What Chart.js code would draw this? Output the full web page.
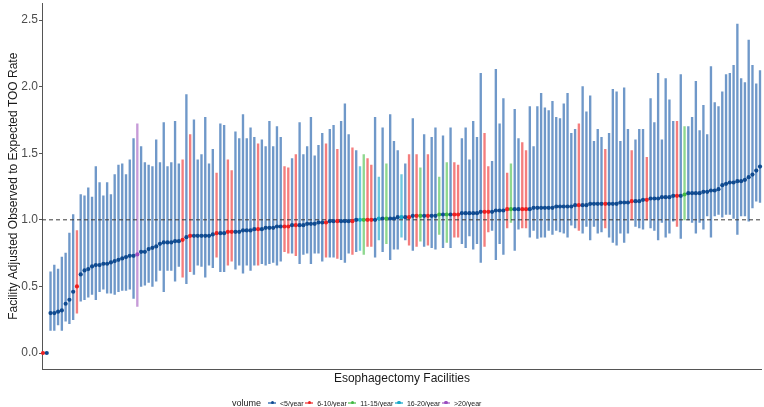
<!DOCTYPE html>
<html>
<head>
<meta charset="utf-8">
<script src="https://cdn.jsdelivr.net/npm/chart.js@4.4.0/dist/chart.umd.min.js"></script>
<style>
html,body{margin:0;padding:0;background:#fff;}
#wrap{position:relative;width:764px;height:407px;overflow:hidden;}
#c{position:absolute;left:0;top:0;}
#legend{position:absolute;left:232px;top:396px;height:14px;display:flex;align-items:center;font-family:"Liberation Sans",Arial,sans-serif;color:#1a1a1a;white-space:nowrap;}
#legend .ttl{font-size:9px;margin-right:7px;}
#legend .key{position:relative;display:inline-block;width:8px;height:1.5px;margin-right:4px;}
#legend .key i{position:absolute;left:2.5px;top:-1.5px;width:3.5px;height:3.5px;border-radius:50%;}
#legend .txt{font-size:7px;margin-right:1.6px;}
</style>
</head>
<body>
<div id="wrap">
<canvas id="c" width="764" height="407"></canvas>
<div id="legend"></div>
</div>
<script>
// ---- data ----
const volumeLevels = ['<5/year', '6-10/year', '11-15/year', '16-20/year', '>20/year'];

// point estimate of facility adjusted O/E TOO rate, sorted ascending
const ptEst = [
0.00,0.00,0.30,0.30,0.31,0.32,0.37,0.40,0.46,0.50,
0.59,0.62,0.63,0.65,0.66,0.66,0.67,0.67,0.68,0.69,
0.70,0.71,0.72,0.73,0.73,0.74,0.76,0.76,0.78,0.79,
0.80,0.82,0.83,0.83,0.83,0.84,0.84,0.85,0.87,0.88,
0.88,0.88,0.88,0.88,0.88,0.89,0.90,0.90,0.90,0.91,
0.91,0.91,0.91,0.92,0.92,0.92,0.93,0.93,0.93,0.94,
0.94,0.94,0.95,0.95,0.95,0.95,0.96,0.96,0.96,0.96,
0.97,0.97,0.97,0.98,0.98,0.98,0.99,0.99,0.99,0.99,
0.99,0.99,0.99,1.00,1.00,1.00,1.00,1.00,1.00,1.01,
1.01,1.01,1.01,1.01,1.02,1.02,1.02,1.02,1.03,1.03,
1.03,1.03,1.03,1.03,1.03,1.04,1.04,1.04,1.04,1.04,
1.04,1.05,1.05,1.05,1.05,1.05,1.06,1.06,1.06,1.06,
1.07,1.07,1.07,1.08,1.08,1.08,1.08,1.08,1.08,1.08,
1.09,1.09,1.09,1.09,1.09,1.09,1.10,1.10,1.10,1.10,
1.10,1.11,1.11,1.11,1.11,1.12,1.12,1.12,1.12,1.12,
1.12,1.12,1.12,1.13,1.13,1.13,1.14,1.14,1.14,1.15,
1.15,1.16,1.16,1.16,1.17,1.17,1.17,1.18,1.18,1.18,
1.19,1.20,1.20,1.20,1.20,1.21,1.21,1.22,1.22,1.23,
1.26,1.27,1.28,1.28,1.29,1.29,1.30,1.32,1.34,1.37,
1.40
];

// lower and upper interval limits (null = no interval drawn)
const ciLow = [
null,null,0.17,0.17,0.21,0.17,0.24,0.22,0.25,0.30,
0.39,0.40,0.42,0.44,0.40,0.46,0.48,0.45,0.45,0.44,
0.46,0.47,0.47,0.48,0.41,0.35,0.50,0.51,0.53,0.50,
0.54,0.62,0.46,0.62,0.62,0.54,0.65,0.57,0.52,0.61,
0.59,0.66,0.65,0.57,0.66,0.64,0.72,0.61,0.61,0.66,
0.69,0.63,0.66,0.60,0.66,0.62,0.66,0.66,0.67,0.66,
0.67,0.68,0.66,0.69,0.76,0.75,0.75,0.73,0.67,0.74,
0.75,0.67,0.75,0.75,0.69,0.72,0.72,0.72,0.71,0.70,
0.68,0.75,0.74,0.76,0.77,0.74,0.80,0.80,0.72,0.85,
0.76,0.82,0.70,0.78,0.78,0.87,0.85,0.81,0.77,0.80,
0.84,0.80,0.81,0.79,0.78,0.89,0.79,0.83,0.79,0.87,
0.87,0.82,0.79,0.88,0.78,0.82,0.68,0.80,0.91,0.92,
0.70,0.82,0.74,0.94,0.98,0.77,0.93,0.94,0.94,0.87,
0.92,0.86,0.87,0.87,0.92,0.89,0.92,0.91,0.90,0.87,
0.96,0.94,0.92,0.90,0.95,0.85,0.95,0.90,0.91,0.94,
0.87,0.83,0.81,0.90,0.83,0.90,1.00,0.95,0.94,0.93,
1.00,0.94,0.92,0.85,0.98,0.87,0.90,0.99,0.95,0.86,
1.00,1.00,0.98,0.90,0.98,0.93,1.03,0.87,1.03,1.04,
1.02,1.04,1.04,1.01,0.89,1.03,1.03,0.99,1.09,1.14,
1.13
];
const ciHigh = [
null,null,0.61,0.66,0.63,0.72,0.75,0.90,1.04,0.92,
1.19,1.18,1.24,1.17,1.40,1.28,1.18,1.28,1.19,1.34,
1.41,1.42,1.34,1.45,1.61,1.72,1.55,1.43,1.41,1.40,
1.60,1.43,1.73,1.40,1.43,1.74,1.42,1.45,1.94,1.64,
1.75,1.45,1.49,1.77,1.42,1.53,1.35,1.72,1.71,1.45,
1.37,1.66,1.61,1.79,1.61,1.69,1.62,1.57,1.60,1.55,
1.74,1.55,1.70,1.62,1.40,1.39,1.46,1.49,1.73,1.49,
1.55,1.77,1.48,1.56,1.65,1.57,1.68,1.71,1.53,1.74,
1.87,1.64,1.54,1.52,1.40,1.49,1.46,1.41,1.77,1.32,
1.69,1.42,1.79,1.59,1.52,1.34,1.42,1.49,1.76,1.49,
1.39,1.64,1.49,1.62,1.69,1.32,1.63,1.43,1.69,1.43,
1.41,1.61,1.69,1.45,1.74,1.62,2.10,1.65,1.40,1.44,
2.13,1.72,1.91,1.35,1.42,1.83,1.61,1.58,1.52,1.85,
1.55,1.85,1.95,1.84,1.82,1.89,1.77,1.76,1.87,1.95,
1.65,1.68,1.72,2.00,1.81,1.93,1.59,1.68,1.62,1.53,
1.65,1.98,1.96,1.59,1.99,1.68,1.52,1.60,1.68,1.68,
1.47,1.91,1.73,2.10,1.60,2.06,1.90,1.74,1.74,2.09,
1.70,1.70,1.77,2.04,1.67,1.86,1.64,2.15,1.88,1.85,
1.96,2.09,2.10,2.16,2.47,2.06,2.03,2.35,2.16,2.02,
2.12
];

// volume group of each facility (index into volumeLevels)
const volumeGroup = [
1,0,0,0,0,0,0,0,0,1,
0,0,0,0,0,0,0,0,0,0,
0,0,0,0,0,4,0,0,0,0,
0,0,0,0,0,0,0,1,0,1,
0,0,0,0,0,0,1,0,0,1,
1,0,0,0,0,0,0,1,0,0,
0,0,0,0,1,1,0,1,0,0,
0,0,0,0,0,1,0,0,1,0,
0,0,1,0,3,2,1,1,0,3,
0,2,0,0,0,3,0,1,0,1,
2,0,1,0,0,2,0,2,0,1,
1,0,0,0,0,0,0,1,1,0,
0,0,0,1,2,0,0,1,1,0,
0,0,0,0,0,0,0,0,0,0,
0,0,1,0,0,0,0,0,0,1,
0,0,0,0,0,0,1,0,0,0,
1,0,0,0,0,0,0,0,1,0,
2,0,0,0,0,0,0,0,0,0,
0,0,0,0,0,0,0,0,0,0,
0
];

const refLine = 1.0;
const yTicks = [0, 0.5, 1, 1.5, 2, 2.5];
const yTickLabels = ['0.0', '0.5', '1.0', '1.5', '2.0', '2.5'];

// ---- styles ----
const pointColors = ['#0f4a90', '#ee2020', '#42b842', '#18a8c8', '#9a4cc0'];
const lineColors  = ['#6f98c9', '#f47e7e', '#8fd88f', '#6fc8de', '#c69bd8'];
const FONT = '"Liberation Sans", Arial, sans-serif';
const xMin = -0.26, xMax = 190.5;
const yMin = -0.12, yMax = 2.624;

const facilityIndex = ptEst.map((_, i) => i);
const barData = [];
facilityIndex.forEach(i => { if (ciLow[i] !== null) barData.push({x: i, y: [ciLow[i], ciHigh[i]]}); });

new Chart(document.getElementById('c').getContext('2d'), {
  type: 'bar',
  data: {
    datasets: [
      {
        type: 'scatter',
        label: 'estimate',
        data: facilityIndex.map(i => ({x: i, y: ptEst[i]})),
        pointRadius: 2.1,
        pointHoverRadius: 2.1,
        pointBorderWidth: 0,
        pointBackgroundColor: ctx => pointColors[volumeGroup[ctx.dataIndex]],
        order: 0,
        clip: false
      },
      {
        type: 'line',
        label: 'reference',
        data: [{x: xMin, y: refLine}, {x: xMax, y: refLine}],
        borderColor: '#3a3a3a',
        borderWidth: 1,
        borderDash: [4, 3],
        pointRadius: 0,
        order: 1
      },
      {
        type: 'bar',
        label: 'interval',
        data: barData,
        backgroundColor: ctx => lineColors[volumeGroup[ctx.raw ? ctx.raw.x : 0]],
        borderWidth: 0,
        barThickness: 1.7,
        order: 2
      }
    ]
  },
  options: {
    responsive: false,
    animation: false,
    devicePixelRatio: 1,
    layout: {padding: {top: 3.5, bottom: 21.6, left: 0, right: 0}},
    plugins: {legend: {display: false}, tooltip: {enabled: false}},
    scales: {
      x: {
        type: 'linear',
        min: xMin, max: xMax,
        offset: false,
        ticks: {display: false},
        grid: {display: false, drawTicks: false},
        border: {display: true, color: '#555', width: 1},
        title: {display: true, text: 'Esophagectomy Facilities', color: '#1a1a1a',
                font: {family: FONT, size: 12}, padding: {top: 2, bottom: 0}},
        afterFit: s => { s.paddingLeft = 0; s.paddingRight = 0; }
      },
      y: {
        type: 'linear',
        min: yMin, max: yMax,
        afterBuildTicks: s => { s.ticks = yTicks.map(v => ({value: v})); },
        afterFit: s => { s.width = 42; s.paddingTop = 0; s.paddingBottom = 0; },
        ticks: {
          color: '#4d4d4d', font: {family: FONT, size: 12}, padding: 1,
          callback: (v, i) => yTickLabels[i]
        },
        grid: {display: true, drawOnChartArea: false, drawTicks: true, tickLength: 3, color: '#555'},
        border: {display: true, color: '#555', width: 1},
        title: {display: true, text: 'Facility Adjusted Observed to Expected TOO Rate', color: '#1a1a1a',
                font: {family: FONT, size: 12}, padding: {top: 6, bottom: 0}}
      }
    }
  }
});

// ---- legend (HTML) ----
const lg = document.getElementById('legend');
const t = document.createElement('span'); t.className = 'ttl'; t.textContent = 'volume'; lg.appendChild(t);
volumeLevels.forEach((lab, g) => {
  const k = document.createElement('span'); k.className = 'key'; k.style.background = lineColors[g];
  const d = document.createElement('i'); d.style.background = pointColors[g]; k.appendChild(d);
  const s = document.createElement('span'); s.className = 'txt'; s.textContent = lab;
  lg.appendChild(k); lg.appendChild(s);
});
</script>
</body>
</html>
